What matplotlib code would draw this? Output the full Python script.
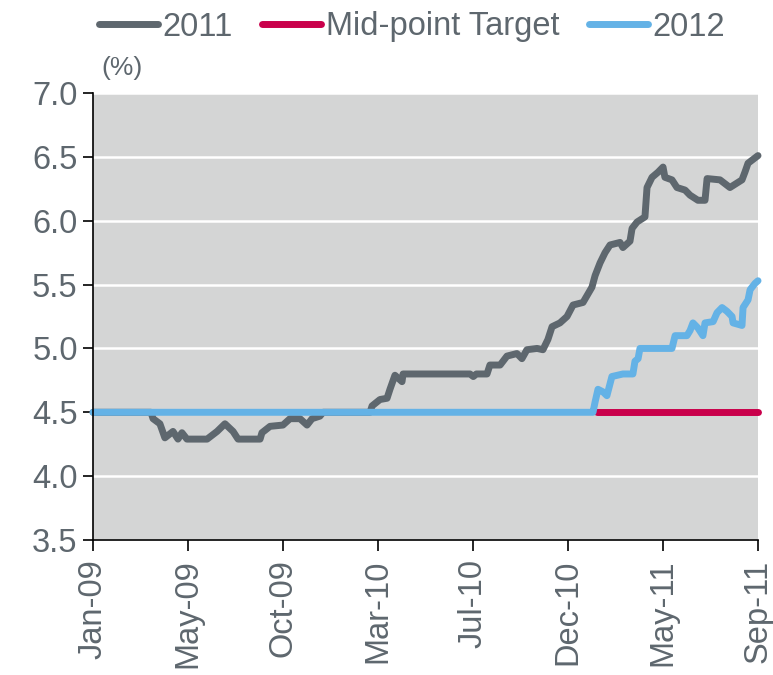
import numpy as np
import matplotlib.pyplot as plt

plt.rcParams['font.family'] = ['Liberation Sans', 'DejaVu Sans']

# x positions in months since Jan-09 (0 .. 32 = Sep-11)
tick_labels = ['Jan-09', 'May-09', 'Oct-09', 'Mar-10', 'Jul-10', 'Dec-10', 'May-11', 'Sep-11']

x_2011 = [0, 2.79, 2.89, 3.22, 3.46, 3.85, 4.09, 4.28, 4.52, 5.49, 5.97, 6.35, 6.74, 6.98,
          8.04, 8.13, 8.52, 9.14, 9.48, 9.96, 10.30, 10.54, 10.92, 11.07, 13.33, 13.43,
          13.81, 14.15, 14.29, 14.53, 14.87, 14.92, 18.14, 18.3, 18.45, 18.96, 19.10,
          19.59, 19.92, 20.40, 20.64, 20.88, 21.37, 21.65, 21.89, 22.09, 22.47, 22.81,
          23.10, 23.58, 24.01, 24.16, 24.40, 24.64, 24.88, 25.36, 25.50, 25.84, 25.94,
          26.18, 26.56, 26.66, 26.90, 27.19, 27.43, 27.52, 27.86, 28.10, 28.49, 28.73,
          29.11, 29.45, 29.55, 30.17, 30.65, 31.23, 31.37, 31.52, 32.0]
y_2011 = [4.5, 4.5, 4.45, 4.41, 4.3, 4.35, 4.29, 4.34, 4.29, 4.29, 4.35, 4.41, 4.35, 4.29,
          4.29, 4.34, 4.39, 4.40, 4.45, 4.45, 4.40, 4.45, 4.47, 4.5, 4.5, 4.55,
          4.6, 4.61, 4.68, 4.79, 4.74, 4.8, 4.8, 4.78, 4.8, 4.8, 4.87,
          4.87, 4.94, 4.96, 4.92, 4.99, 5.0, 4.99, 5.07, 5.17, 5.2, 5.25,
          5.34, 5.36, 5.48, 5.57, 5.67, 5.75, 5.81, 5.83, 5.79, 5.84, 5.94,
          5.99, 6.03, 6.26, 6.34, 6.38, 6.42, 6.34, 6.32, 6.26, 6.24, 6.2,
          6.16, 6.16, 6.33, 6.32, 6.26, 6.32, 6.38, 6.45, 6.51]

x_target = [24.25, 32.0]
y_target = [4.5, 4.5]

x_2012 = [0, 24.01, 24.06, 24.16, 24.30, 24.54, 24.73, 24.97, 25.50, 25.98, 26.08, 26.23,
          26.32, 27.86, 28.01, 28.58, 28.73, 28.87, 29.11, 29.35, 29.45, 29.84, 30.03,
          30.27, 30.51, 30.75, 30.80, 31.23, 31.28, 31.52, 31.62, 31.86, 32.0]
y_2012 = [4.5, 4.5, 4.5, 4.58, 4.68, 4.66, 4.63, 4.78, 4.8, 4.8, 4.9, 4.92,
          5.0, 5.0, 5.1, 5.1, 5.14, 5.2, 5.16, 5.1, 5.2, 5.21, 5.28,
          5.32, 5.29, 5.25, 5.2, 5.18, 5.32, 5.38, 5.46, 5.51, 5.53]

txt = '#5e676e'
fs = 23.5

fig = plt.figure(figsize=(7.73, 6.75), dpi=100)
ax = fig.add_axes([0.1203, 0.2, 0.8603, 0.6622])
ax.set_facecolor('#d4d5d5')

lw = 5.0
ax.plot(x_2011, y_2011, color='#5e676e', lw=lw, solid_capstyle='round', solid_joinstyle='round',
        label='2011', clip_on=False)
ax.plot(x_target, y_target, color='#c9004b', lw=lw, solid_capstyle='round', label='Mid-point Target',
        clip_on=False)
ax.plot(x_2012, y_2012, color='#64b2e6', lw=lw, solid_capstyle='round', solid_joinstyle='round',
        label='2012', clip_on=False)

ax.set_xlim(0, 32)
ax.set_ylim(3.5, 7.0)
ax.set_xticks(np.linspace(0, 32, len(tick_labels)))
ax.set_xticklabels(tick_labels, rotation=90)
ax.set_yticks(np.arange(3.5, 7.01, 0.5))
ax.set_yticklabels([f'{v:.1f}' for v in np.arange(3.5, 7.01, 0.5)])

ax.yaxis.grid(True, color='white', lw=1.8)
ax.set_axisbelow(True)
for s in ['top', 'right']:
    ax.spines[s].set_visible(False)
for s in ['left', 'bottom']:
    ax.spines[s].set_color('black')
    ax.spines[s].set_linewidth(1.2)
ax.tick_params(axis='x', direction='out', length=8, width=1.2, colors='black', labelcolor=txt, labelsize=fs, pad=6)
ax.tick_params(axis='y', direction='out', length=7, width=1.2, colors='black', labelcolor=txt, labelsize=fs, pad=4)

fig.text(122 / 773, 1 - 68 / 675, '(%)', color=txt, fontsize=19, ha='center', va='center')

leg = fig.legend(loc='center', bbox_to_anchor=(412 / 773, 1 - 27 / 675), ncol=3, frameon=False,
                 fontsize=fs, handlelength=1.8, handletextpad=0.15, columnspacing=0.9,
                 labelcolor=txt, borderpad=0)
for h in leg.legend_handles:
    h.set_linewidth(5)
    h.set_solid_capstyle('round')

fig.savefig('out.png', dpi=100)
